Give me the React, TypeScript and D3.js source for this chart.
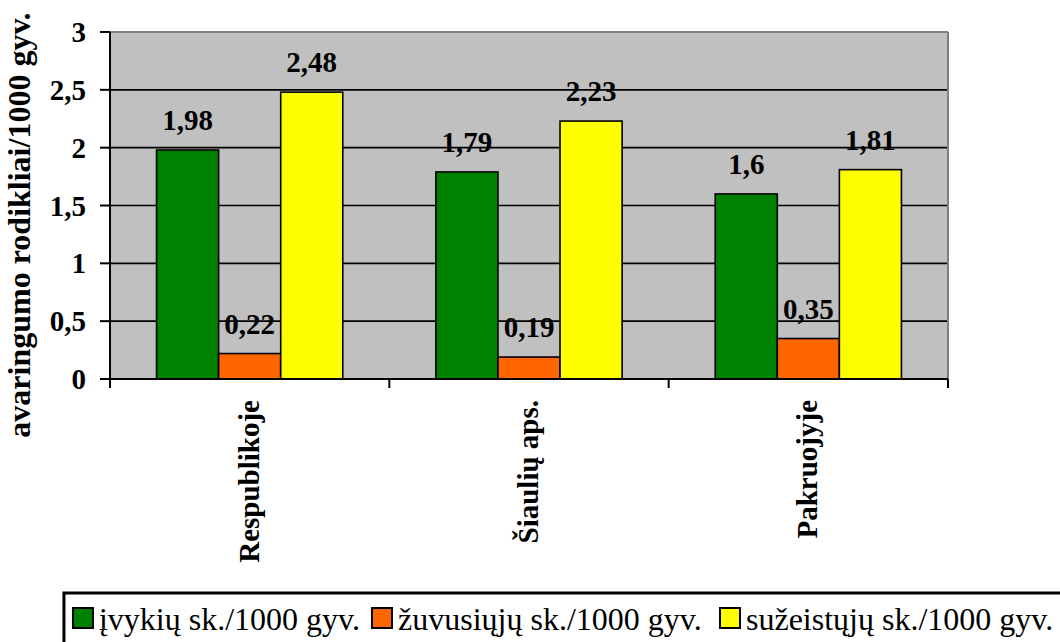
import React from "react";
import * as d3 from "d3";

const categories = ["Respublikoje", "Šiaulių aps.", "Pakruojyje"];
const seriesNames = ["įvykių sk./1000 gyv.", "žuvusiųjų sk./1000 gyv.", "sužeistųjų sk./1000 gyv."];
const seriesColors = ["#008000", "#FF6600", "#FFFF00"];
const ivykiai = [1.98, 1.79, 1.6];
const zuvusieji = [0.22, 0.19, 0.35];
const suzeistieji = [2.48, 2.23, 1.81];
const yTicks = [0, 0.5, 1, 1.5, 2, 2.5, 3];

const W = 1060, H = 642;
const left = 110, right = 948, top = 32, bottom = 379;
const FF = "Liberation Serif";
const fmt = (v: number) => String(v).replace(".", ",");

function measure(text: string, font: string) {
  const c = document.createElement("canvas").getContext("2d");
  if (!c) return text.length * 13;
  c.font = font;
  return c.measureText(text).width;
}

export default function App() {
  const series = [ivykiai, zuvusieji, suzeistieji];
  const x0 = d3.scaleBand<string>().domain(categories).range([left, right]).paddingInner(0).paddingOuter(0);
  const inner = d3.scaleBand<number>().domain([0, 1, 2]).range([0, x0.bandwidth()]).paddingInner(0).paddingOuter(0.75);
  const y = d3.scaleLinear().domain([0, 3]).range([bottom, top]);

  const LF = 32;
  const firstW = measure(seriesNames[0], `${LF}px "Liberation Serif"`);
  const sq = 20;
  const orangeX = 372, yellowX = 720;
  const greenX = orangeX - 12 - firstW - 6 - sq;
  const legendItems = [greenX, orangeX, yellowX];

  return (
    <svg width={W} height={H} style={{ position: "absolute", left: 0, top: 0 }} fontFamily={FF}>
      <rect x={0} y={0} width={W} height={H} fill="#fff" />
      <rect x={left} y={top} width={right - left} height={bottom - top} fill="#C0C0C0" />
      {yTicks.filter(t => t > 0 && t < 3).map(t => (
        <line key={t} x1={left} x2={right} y1={y(t)} y2={y(t)} stroke="#000" strokeWidth={1.6} />
      ))}
      <line x1={left} x2={right} y1={top} y2={top} stroke="#808080" strokeWidth={2} />
      <line x1={right} x2={right} y1={top} y2={bottom} stroke="#808080" strokeWidth={2} />
      {categories.map((c, ci) => (
        <g key={c}>
          {series.map((s, si) => {
            const bx = (x0(c) as number) + (inner(si) as number);
            const bw = inner.bandwidth();
            return (
              <rect key={si} x={bx} y={y(s[ci])} width={bw} height={y(0) - y(s[ci])}
                fill={seriesColors[si]} stroke="#000" strokeWidth={1.6} />
            );
          })}
        </g>
      ))}
      {categories.map((c, ci) => (
        <g key={c + "l"}>
          {series.map((s, si) => {
            const bx = (x0(c) as number) + (inner(si) as number) + inner.bandwidth() / 2;
            return (
              <text key={si} x={bx} y={y(s[ci]) - 20} textAnchor="middle" fontFamily={FF} fontWeight="bold" fontSize={29} fill="#000">
                {fmt(s[ci])}
              </text>
            );
          })}
        </g>
      ))}
      <line x1={left} x2={left} y1={top} y2={bottom} stroke="#000" strokeWidth={2} />
      {yTicks.map(t => (
        <g key={"yt" + t}>
          <line x1={left - 10} x2={left} y1={y(t)} y2={y(t)} stroke="#000" strokeWidth={2} />
          <text x={86} y={y(t) + 10} textAnchor="end" fontFamily={FF} fontWeight="bold" fontSize={29}>{fmt(t)}</text>
        </g>
      ))}
      <line x1={left} x2={right} y1={bottom} y2={bottom} stroke="#000" strokeWidth={2} />
      {[left, ...categories.map(c => (x0(c) as number) + x0.bandwidth())].map((tx, i) => (
        <line key={"xt" + i} x1={tx} x2={tx} y1={bottom} y2={bottom + 9} stroke="#000" strokeWidth={2} />
      ))}
      {categories.map(c => {
        const cx = (x0(c) as number) + x0.bandwidth() / 2;
        return (
          <text key={"xl" + c} transform={`translate(${cx + 9},${400}) rotate(-90)`} textAnchor="end"
            fontFamily={FF} fontWeight="bold" fontSize={29}>{c}</text>
        );
      })}
      <text transform={`translate(${30},${225}) rotate(-90)`} textAnchor="middle" fontFamily={FF} fontWeight="bold" fontSize={32}>
        avaringumo rodikliai/1000 gyv.
      </text>
      <rect x={greenX - 9} y={593} width={W} height={60} fill="#fff" stroke="#000" strokeWidth={3} />
      {legendItems.map((lx, i) => (
        <g key={"lg" + i}>
          <rect x={lx} y={608} width={sq} height={sq} fill={seriesColors[i]} stroke="#000" strokeWidth={2} />
          <text x={lx + sq + 6} y={630} fontFamily={FF} fontSize={LF}>{seriesNames[i]}</text>
        </g>
      ))}
    </svg>
  );
}
